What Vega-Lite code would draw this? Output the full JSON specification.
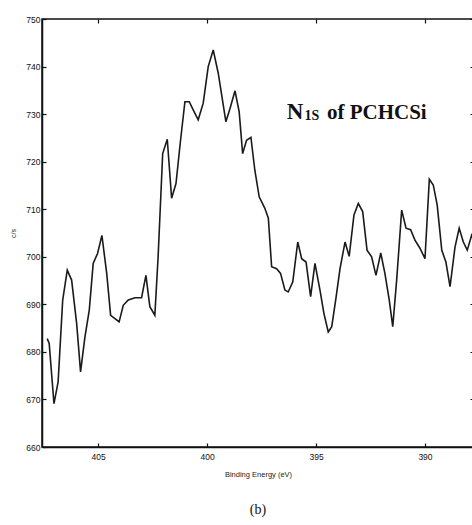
{
  "$schema": "https://vega.github.io/schema/vega-lite/v6.json",
  "width": 432,
  "height": 428,
  "autosize": "none",
  "padding": {"left": 42, "top": 19, "right": 0, "bottom": 78},
  "background": "white",
  "title": {"text": "(b)", "orient": "bottom", "font": "Liberation Serif", "fontSize": 14, "fontWeight": "normal", "color": "#111", "offset": 25, "anchor": "middle"},
  "config": {
    "view": {"stroke": "#111", "strokeWidth": 1.5},
    "axis": {"domainColor": "#111", "domainWidth": 1.5, "tickColor": "#111", "tickWidth": 1.2, "labelColor": "#111", "labelFont": "Liberation Sans", "labelFontSize": 8.5, "grid": false, "titleFont": "Liberation Sans", "titleFontWeight": "normal", "titleColor": "#222"}
  },
  "datasets": {
    "xps": [
      {"ev": 407.34, "cps": 682.8}, {"ev": 407.25, "cps": 681.8}, {"ev": 407.03, "cps": 669.1}, {"ev": 406.84, "cps": 673.7},
      {"ev": 406.63, "cps": 690.9}, {"ev": 406.42, "cps": 697.2}, {"ev": 406.22, "cps": 695.1}, {"ev": 405.99, "cps": 686.0},
      {"ev": 405.81, "cps": 675.8}, {"ev": 405.61, "cps": 683.1}, {"ev": 405.41, "cps": 688.8}, {"ev": 405.23, "cps": 698.6},
      {"ev": 405.03, "cps": 700.7}, {"ev": 404.83, "cps": 704.5}, {"ev": 404.61, "cps": 696.5}, {"ev": 404.43, "cps": 687.7},
      {"ev": 404.23, "cps": 687.0}, {"ev": 404.04, "cps": 686.3}, {"ev": 403.85, "cps": 689.8}, {"ev": 403.62, "cps": 690.9},
      {"ev": 403.31, "cps": 691.4}, {"ev": 403.01, "cps": 691.4}, {"ev": 402.81, "cps": 696.1}, {"ev": 402.63, "cps": 689.5},
      {"ev": 402.40, "cps": 687.7}, {"ev": 402.25, "cps": 700.0}, {"ev": 402.04, "cps": 721.7}, {"ev": 401.83, "cps": 724.7},
      {"ev": 401.63, "cps": 712.3}, {"ev": 401.43, "cps": 715.4}, {"ev": 401.22, "cps": 724.5}, {"ev": 401.02, "cps": 732.6},
      {"ev": 400.82, "cps": 732.6}, {"ev": 400.64, "cps": 730.9}, {"ev": 400.41, "cps": 728.8}, {"ev": 400.18, "cps": 732.3},
      {"ev": 399.95, "cps": 740.0}, {"ev": 399.72, "cps": 743.5}, {"ev": 399.49, "cps": 738.6}, {"ev": 399.14, "cps": 728.4},
      {"ev": 398.95, "cps": 731.2}, {"ev": 398.72, "cps": 734.9}, {"ev": 398.53, "cps": 730.5}, {"ev": 398.37, "cps": 721.7},
      {"ev": 398.19, "cps": 724.5}, {"ev": 397.99, "cps": 725.1}, {"ev": 397.81, "cps": 718.2}, {"ev": 397.61, "cps": 712.6},
      {"ev": 397.35, "cps": 710.2}, {"ev": 397.19, "cps": 708.1}, {"ev": 397.04, "cps": 697.9}, {"ev": 396.81, "cps": 697.5},
      {"ev": 396.63, "cps": 696.5}, {"ev": 396.43, "cps": 693.0}, {"ev": 396.28, "cps": 692.6}, {"ev": 396.07, "cps": 694.7},
      {"ev": 395.84, "cps": 703.1}, {"ev": 395.66, "cps": 699.6}, {"ev": 395.46, "cps": 698.9}, {"ev": 395.25, "cps": 691.6},
      {"ev": 395.05, "cps": 698.6}, {"ev": 394.82, "cps": 693.0}, {"ev": 394.64, "cps": 688.1}, {"ev": 394.44, "cps": 684.2},
      {"ev": 394.28, "cps": 685.3}, {"ev": 394.09, "cps": 691.2}, {"ev": 393.90, "cps": 697.5}, {"ev": 393.67, "cps": 703.1},
      {"ev": 393.48, "cps": 700.1}, {"ev": 393.26, "cps": 708.8}, {"ev": 393.06, "cps": 711.2}, {"ev": 392.86, "cps": 709.5},
      {"ev": 392.66, "cps": 701.4}, {"ev": 392.45, "cps": 700.0}, {"ev": 392.25, "cps": 696.1}, {"ev": 392.03, "cps": 700.8},
      {"ev": 391.84, "cps": 696.5}, {"ev": 391.64, "cps": 690.9}, {"ev": 391.48, "cps": 685.3}, {"ev": 391.30, "cps": 695.1},
      {"ev": 391.07, "cps": 709.8}, {"ev": 390.87, "cps": 706.0}, {"ev": 390.66, "cps": 705.7}, {"ev": 390.46, "cps": 703.5},
      {"ev": 390.23, "cps": 701.8}, {"ev": 390.00, "cps": 699.6}, {"ev": 389.80, "cps": 716.3}, {"ev": 389.62, "cps": 715.1},
      {"ev": 389.44, "cps": 710.9}, {"ev": 389.23, "cps": 701.4}, {"ev": 389.04, "cps": 698.9}, {"ev": 388.85, "cps": 693.7},
      {"ev": 388.62, "cps": 702.1}, {"ev": 388.43, "cps": 706.0}, {"ev": 388.24, "cps": 703.1}, {"ev": 388.06, "cps": 701.4},
      {"ev": 387.86, "cps": 704.5}, {"ev": 387.70, "cps": 702.8}
    ],
    "labelN": [{"ev": 396.34, "cps": 728.96, "t": "N"}],
    "labelSub": [{"ev": 395.53, "cps": 728.75, "t": "1S"}],
    "labelRest": [{"ev": 394.50, "cps": 728.96, "t": "of PCHCSi"}]
  },
  "resolve": {"axis": {"x": "independent", "y": "independent"}},
  "layer": [
    {
      "data": {"name": "xps"},
      "mark": {"type": "line", "color": "#1a1a1a", "strokeWidth": 1.6, "clip": true},
      "encoding": {
        "x": {"field": "ev", "type": "quantitative", "scale": {"domain": [387.75, 407.58], "reverse": true, "nice": false, "zero": false},
              "axis": {"orient": "bottom", "values": [405, 400, 395, 390], "tickSize": -4, "labelPadding": 9, "title": "Binding Energy (eV)", "titleFontSize": 7.5, "titlePadding": 10}},
        "y": {"field": "cps", "type": "quantitative", "scale": {"domain": [660, 750], "nice": false, "zero": false},
              "axis": {"orient": "left", "values": [660, 670, 680, 690, 700, 710, 720, 730, 740, 750], "tickSize": -4, "labelPadding": 6, "title": "c/s", "titleFontSize": 7, "titlePadding": 9}}
      }
    },
    {
      "data": {"name": "labelN"},
      "mark": {"type": "text", "font": "Liberation Serif", "fontWeight": "bold", "fontSize": 23, "align": "left", "baseline": "alphabetic", "color": "#111"},
      "encoding": {
        "x": {"field": "ev", "type": "quantitative", "scale": {"domain": [387.75, 407.58], "reverse": true, "nice": false, "zero": false}, "axis": null},
        "y": {"field": "cps", "type": "quantitative", "scale": {"domain": [660, 750], "nice": false, "zero": false}, "axis": null},
        "text": {"field": "t"}
      }
    },
    {
      "data": {"name": "labelSub"},
      "mark": {"type": "text", "font": "Liberation Serif", "fontWeight": "bold", "fontSize": 14, "align": "left", "baseline": "alphabetic", "color": "#111"},
      "encoding": {
        "x": {"field": "ev", "type": "quantitative", "scale": {"domain": [387.75, 407.58], "reverse": true, "nice": false, "zero": false}, "axis": null},
        "y": {"field": "cps", "type": "quantitative", "scale": {"domain": [660, 750], "nice": false, "zero": false}, "axis": null},
        "text": {"field": "t"}
      }
    },
    {
      "data": {"name": "labelRest"},
      "mark": {"type": "text", "font": "Liberation Serif", "fontWeight": "bold", "fontSize": 21, "align": "left", "baseline": "alphabetic", "color": "#111"},
      "encoding": {
        "x": {"field": "ev", "type": "quantitative", "scale": {"domain": [387.75, 407.58], "reverse": true, "nice": false, "zero": false},
              "axis": {"orient": "top", "values": [405, 400, 395, 390], "tickSize": -4, "labels": false, "title": null, "domain": false}},
        "y": {"field": "cps", "type": "quantitative", "scale": {"domain": [660, 750], "nice": false, "zero": false},
              "axis": {"orient": "right", "values": [660, 670, 680, 690, 700, 710, 720, 730, 740, 750], "tickSize": -4, "labels": false, "title": null, "domain": false}},
        "text": {"field": "t"}
      }
    }
  ]
}
